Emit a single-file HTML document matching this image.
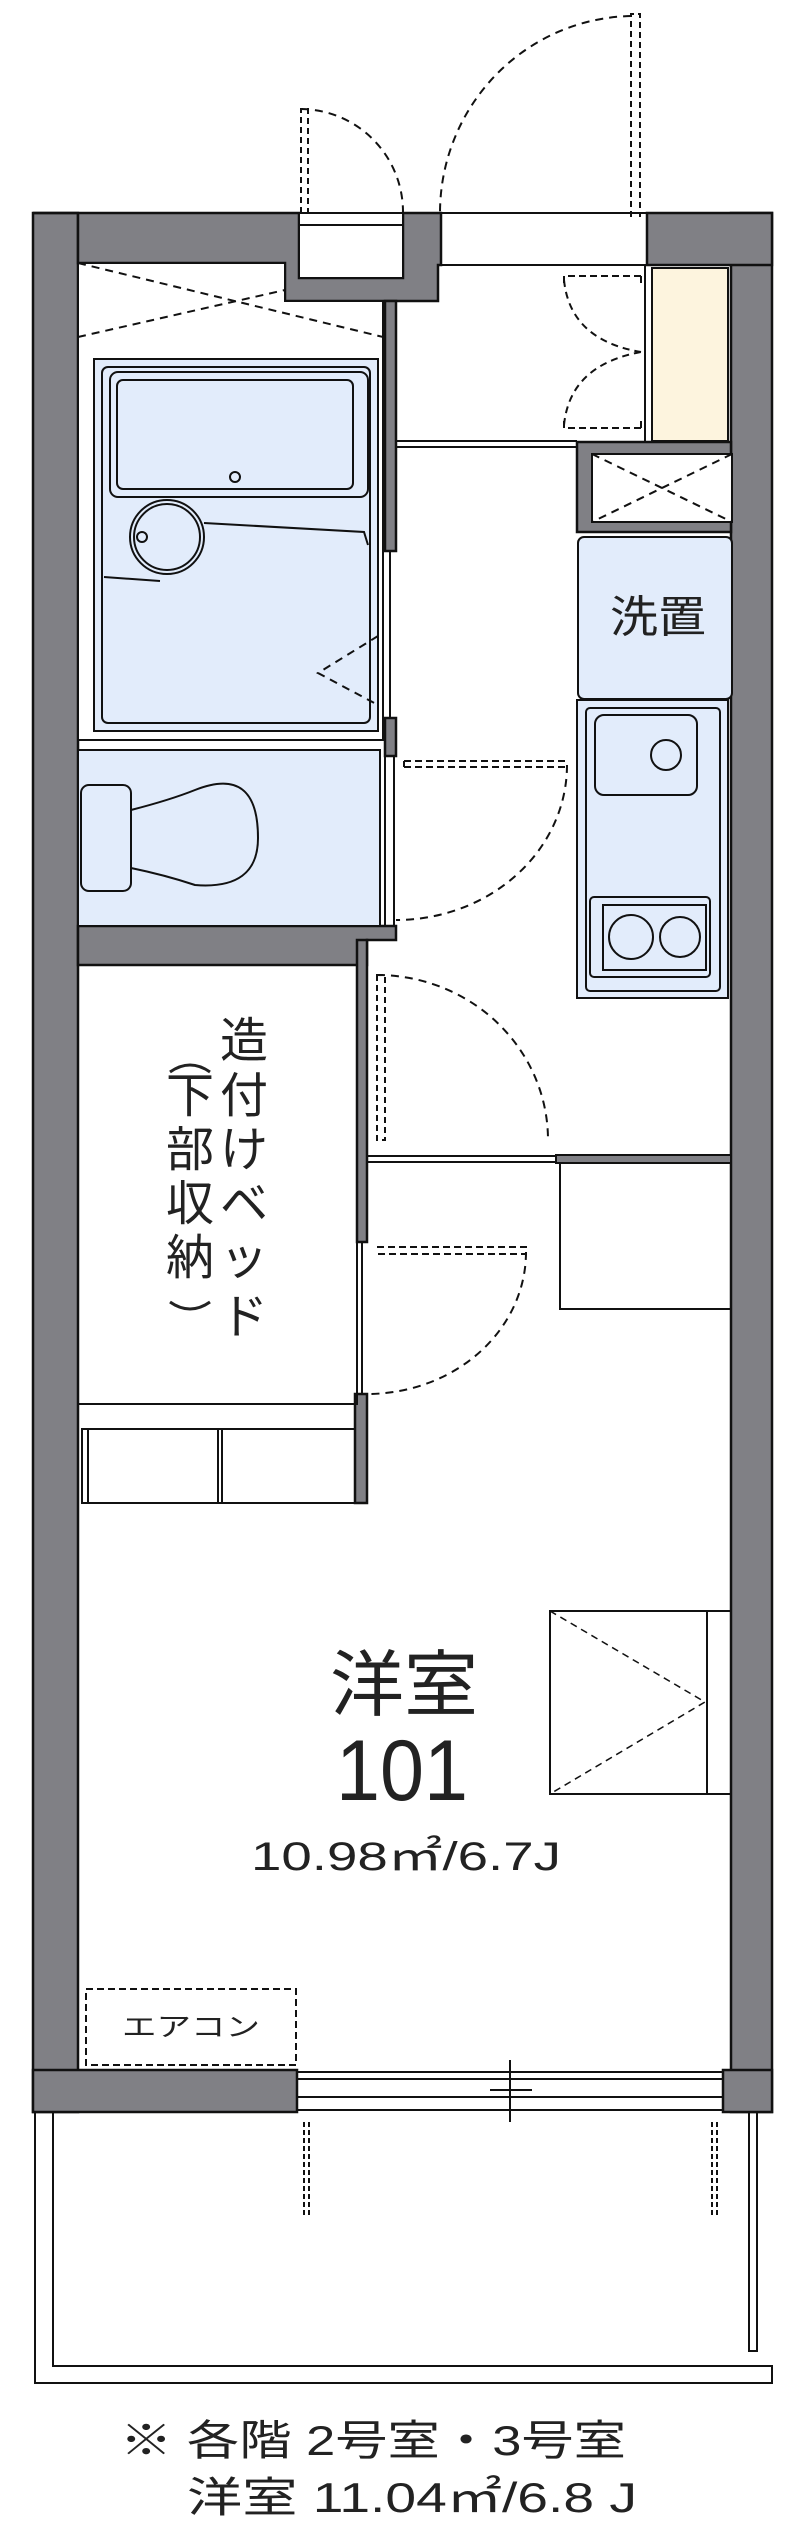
<!DOCTYPE html>
<html><head><meta charset="utf-8"><style>
html,body{margin:0;padding:0;background:#fff;}
svg{display:block;}
text{font-family:"Liberation Sans","Noto Sans CJK JP",sans-serif;fill:#222;}
</style></head><body>
<svg width="800" height="2539" viewBox="0 0 800 2539" xmlns="http://www.w3.org/2000/svg">
<g stroke="#111" stroke-width="2.5">
<rect x="33" y="213" width="45" height="1899" fill="#808085"/>
<rect x="731" y="213" width="41" height="1899" fill="#808085"/>
<polygon points="33,213 299,213 299,278 403,278 403,213 441,213 441,265 438,265 438,301 285,301 285,263 78,263 78,213" fill="#808085"/>
<rect x="647" y="213" width="125" height="52" fill="#808085"/>
<rect x="33" y="2070" width="264" height="42" fill="#808085"/>
<rect x="723" y="2070" width="49" height="42" fill="#808085"/>
<rect x="385" y="301" width="11" height="250" fill="#808085"/>
<rect x="385" y="718" width="11" height="38" fill="#808085"/>
<polygon points="78,926 396,926 396,940 367,940 367,965 78,965" fill="#808085"/>
<rect x="357" y="940" width="10" height="302" fill="#808085"/>
<rect x="355" y="1394" width="12" height="109" fill="#808085"/>
<rect x="577" y="442" width="154" height="90" fill="#808085"/>
</g>
<g fill="none" stroke="#111" stroke-width="2">
<rect x="299" y="213" width="104" height="65" fill="#fff"/>
<line x1="299" y1="225" x2="403" y2="225"/>
<line x1="441" y1="213" x2="647" y2="213"/>
<line x1="441" y1="265" x2="647" y2="265"/>
<path d="M301,213 V109 H308 V213" stroke-dasharray="6,4"/>
<path d="M301,109 A103,103 0 0 1 403,213" stroke-dasharray="8,6"/>
<path d="M631,217 V14 H640 V217" stroke-dasharray="6,4"/>
<path d="M631,16 A195,197 0 0 0 440,213" stroke-dasharray="8,6"/>
<rect x="652" y="268" width="76" height="173" fill="#fdf4de"/>
<line x1="645" y1="265" x2="645" y2="441"/>
<path d="M641,276 H564 M641,428 H564 M564,276 V284 M564,428 V420 M641,276 V284 M641,428 V420" stroke-dasharray="7,4"/>
<path d="M564,280 Q570,340 641,352 M564,425 Q570,365 641,352" stroke-dasharray="7,5"/>
<line x1="397" y1="441" x2="577" y2="441"/>
<line x1="397" y1="447" x2="577" y2="447"/>
<rect x="592" y="454" width="140" height="68" fill="#fff"/>
<path d="M592,454 L732,522 M732,454 L592,522" stroke-dasharray="8,6"/>
<rect x="578" y="537" width="154" height="162" rx="6" fill="#e2ecfb"/>
<rect x="577" y="700" width="151" height="298" fill="#e2ecfb"/>
<rect x="586" y="708" width="134" height="283" rx="4"/>
<rect x="595" y="715" width="102" height="80" rx="9"/>
<circle cx="666" cy="755" r="15"/>
<rect x="590" y="897" width="120" height="80" rx="4"/>
<rect x="603" y="905" width="103" height="65"/>
<circle cx="631" cy="937" r="22"/>
<circle cx="680" cy="937" r="20"/>
<polygon points="78,263 285,263 285,301 383,301 383,740 78,740" fill="#fff"/>
<path d="M78,263 L383,337 M78,337 L285,290" stroke-dasharray="8,6"/>
<rect x="94" y="359" width="284" height="372" fill="#e2ecfb"/>
<rect x="102" y="367" width="268" height="356" rx="6"/>
<rect x="110" y="372" width="258" height="125" rx="8"/>
<rect x="117" y="380" width="236" height="109" rx="6"/>
<circle cx="235" cy="477" r="5"/>
<circle cx="167" cy="537" r="37" fill="#e2ecfb"/>
<circle cx="167" cy="537" r="33"/>
<circle cx="142" cy="537" r="5"/>
<path d="M204,523 L364,532 L368,545 M104,577 L160,581"/>
<path d="M378,636 L318,673 L378,705" stroke-dasharray="8,6"/>
<line x1="390" y1="551" x2="390" y2="718"/>
<rect x="78" y="750" width="302" height="176" fill="#e2ecfb"/>
<rect x="81" y="785" width="50" height="106" rx="8"/>
<path d="M131,810 Q170,800 195,790 Q258,765 258,838 Q258,890 195,885 Q165,875 131,868"/>
<line x1="385" y1="756" x2="385" y2="926"/>
<line x1="394" y1="756" x2="394" y2="926"/>
<path d="M404,761 H567 M404,767 H567 M404,761 V767" stroke-dasharray="7,4"/>
<path d="M567,765 A171,155 0 0 1 396,920" stroke-dasharray="8,6"/>
<rect x="78" y="965" width="279" height="439"/>
<line x1="362" y1="1242" x2="362" y2="1394"/>
<path d="M377,975 V1140 H385 V975 Z" stroke-dasharray="6,4"/>
<path d="M377,975 A171,165 0 0 1 548,1140" stroke-dasharray="8,6"/>
<line x1="367" y1="1156" x2="556" y2="1156"/>
<line x1="367" y1="1162" x2="556" y2="1162"/>
<rect x="556" y="1155" width="175" height="8" fill="#808085"/>
<rect x="560" y="1163" width="171" height="146"/>
<path d="M377,1247 H526 V1254 H377" stroke-dasharray="7,4"/>
<path d="M526,1252 A159,142 0 0 1 367,1394" stroke-dasharray="8,6"/>
<rect x="82" y="1429" width="273" height="74"/>
<line x1="88" y1="1429" x2="88" y2="1503"/>
<line x1="218" y1="1429" x2="218" y2="1503"/>
<line x1="222" y1="1429" x2="222" y2="1503"/>
<rect x="550" y="1611" width="181" height="183"/>
<line x1="707" y1="1611" x2="707" y2="1794"/>
<path d="M550,1611 L705,1702 L550,1794" stroke-dasharray="7,5" stroke-width="1.5"/>
<rect x="86" y="1989" width="210" height="76" stroke-dasharray="7,4"/>
<line x1="297" y1="2072" x2="723" y2="2072"/>
<line x1="297" y1="2079" x2="723" y2="2079"/>
<line x1="297" y1="2097" x2="723" y2="2097"/>
<line x1="297" y1="2110" x2="723" y2="2110"/>
<line x1="510" y1="2060" x2="510" y2="2122"/>
<line x1="490" y1="2090" x2="532" y2="2090"/>
<path d="M35,2112 V2383 H772 V2366 H53 V2112"/>
<path d="M749,2112 V2351 H757 V2112"/>
<path d="M304,2122 V2218 M309,2122 V2218 M712,2122 V2218 M717,2122 V2218" stroke-dasharray="5,3"/>
</g>
<text x="610" y="632" font-size="44" textLength="96" lengthAdjust="spacingAndGlyphs">洗置</text>
<g font-size="48" text-anchor="middle">
<text x="244" y="1057">造</text>
<text x="244" y="1112">付</text>
<text x="244" y="1166">け</text>
<text x="244" y="1220">ベ</text>
<text x="244" y="1274">ッ</text>
<text x="244" y="1333">ド</text>
<text x="190" y="1112">下</text>
<text x="190" y="1166">部</text>
<text x="190" y="1220">収</text>
<text x="190" y="1274">納</text>
</g>
<g stroke="#222" stroke-width="3" fill="none">
<path d="M170,1072 Q190,1058 210,1072"/>
<path d="M170,1302 Q190,1316 210,1302"/>
</g>
<text x="330" y="1710" font-size="72" textLength="148" lengthAdjust="spacingAndGlyphs">洋室</text>
<text x="336" y="1800" font-size="86" textLength="132" lengthAdjust="spacingAndGlyphs">101</text>
<text x="251" y="1870" font-size="40" textLength="310" lengthAdjust="spacingAndGlyphs">10.98㎡/6.7J</text>
<text x="122" y="2036" font-size="26" textLength="138" lengthAdjust="spacingAndGlyphs">エアコン</text>
<text x="120" y="2455" font-size="42" textLength="506" lengthAdjust="spacingAndGlyphs">※ 各階 2号室・3号室</text>
<text x="187" y="2512" font-size="42" textLength="450" lengthAdjust="spacingAndGlyphs">洋室 11.04㎡/6.8 J</text>
</svg>
</body></html>
